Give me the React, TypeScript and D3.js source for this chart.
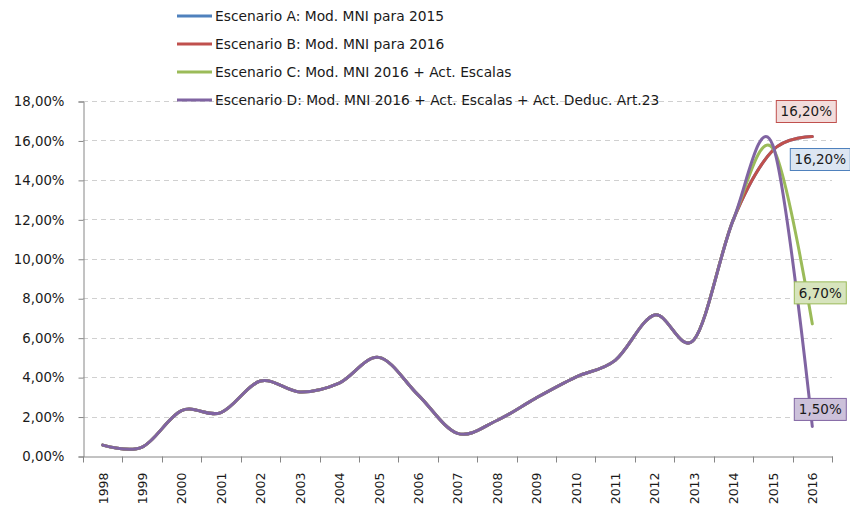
import * as d3 from 'd3';
import { useEffect, useRef } from 'react';

const width = 850;
const height = 508;
const margin = { top: 101, left: 83, bottom: 52, right: 18 };

const years = [
  '1998', '1999', '2000', '2001', '2002', '2003', '2004', '2005', '2006', '2007',
  '2008', '2009', '2010', '2011', '2012', '2013', '2014', '2015', '2016',
];

// shared history 1998-2014
const base = [0.55, 0.45, 2.3, 2.2, 3.8, 3.25, 3.7, 5.0, 3.1, 1.15, 1.8, 2.95, 4.0, 4.85, 7.15, 5.9, 12.0];

const scenarioA = [...base, 15.5, 16.2];
const scenarioB = [...base, 15.5, 16.2];
const scenarioC = [...base, 15.6, 6.7];
const scenarioD = [...base, 15.75, 1.5];

const seriesNames = [
  'Escenario A: Mod. MNI para 2015',
  'Escenario B: Mod. MNI para 2016',
  'Escenario C: Mod. MNI 2016 + Act. Escalas',
  'Escenario D: Mod. MNI 2016 + Act. Escalas + Act. Deduc. Art.23',
];
const seriesValues = [scenarioA, scenarioB, scenarioC, scenarioD];
const colors = ['#4F81BD', '#C0504D', '#9BBB59', '#8064A2'];
const labelFills = ['#DCE6F2', '#F2DCDB', '#D7E4BD', '#CCC1DA'];
const labelStrokes = ['#4F81BD', '#C0504D', '#9BBB59', '#8064A2'];
// offset of each end label box centre from its last point
const labelOffsets = [
  { dx: 8, dy: 23 },
  { dx: -6, dy: -25 },
  { dx: 8, dy: -31 },
  { dx: 8, dy: -17 },
];

const yTicks = [0, 2, 4, 6, 8, 10, 12, 14, 16, 18];

const font = 'DejaVu Sans, sans-serif';
const fmt = (v: number) => v.toFixed(2).replace('.', ',') + '%';

function App() {
  const ref = useRef<SVGSVGElement>(null);

  useEffect(() => {
    const svg = d3.select(ref.current);
    svg.selectAll('*').remove();

    const x = d3
      .scaleBand()
      .domain(years)
      .range([margin.left, width - margin.right]);
    const cx = (i: number) => (x(years[i]) || 0) + x.bandwidth() / 2;

    const y = d3
      .scaleLinear()
      .domain([0, 18])
      .range([height - margin.bottom, margin.top]);

    // gridlines
    svg
      .append('g')
      .selectAll('line')
      .data(yTicks.slice(1))
      .join('line')
      .attr('x1', margin.left)
      .attr('x2', width - margin.right)
      .attr('y1', (d) => Math.round(y(d)) + 0.5)
      .attr('y2', (d) => Math.round(y(d)) + 0.5)
      .attr('stroke', '#D0D0D0')
      .attr('stroke-dasharray', '5,4');

    // y axis
    const yAxis = svg
      .append('g')
      .attr('transform', `translate(${margin.left + 0.5},0.5)`)
      .call(
        d3
          .axisLeft(y)
          .tickValues(yTicks)
          .tickSize(5)
          .tickPadding(14)
          .tickFormat((d) => fmt(d as number))
      );
    yAxis.select('.domain').attr('stroke', '#868686');
    yAxis.selectAll('.tick line').attr('stroke', '#868686');
    yAxis
      .selectAll('.tick text')
      .attr('font-family', font)
      .attr('font-size', 13.3)
      .attr('fill', '#1a1a1a');

    // x axis
    const xAxis = svg
      .append('g')
      .attr('transform', `translate(0.5,${height - margin.bottom + 0.5})`)
      .call(d3.axisBottom(x).tickSize(0).tickPadding(0));
    xAxis.select('.domain').attr('stroke', '#868686');
    xAxis
      .append('g')
      .selectAll('line')
      .data([...years.map((yr) => x(yr) || 0), width - margin.right])
      .join('line')
      .attr('x1', (d) => Math.round(d))
      .attr('x2', (d) => Math.round(d))
      .attr('y1', 0)
      .attr('y2', 6)
      .attr('stroke', '#868686');
    xAxis
      .selectAll('.tick text')
      .attr('font-family', font)
      .attr('font-size', 12.5)
      .attr('fill', '#1a1a1a')
      .attr('text-anchor', 'end')
      .attr('dy', '0.35em')
      .attr('transform', 'translate(0,16) rotate(-90)')
      .attr('x', 0)
      .attr('y', 0);

    // lines
    const line = d3
      .line<number>()
      .x((_, i) => cx(i))
      .y((d) => y(d))
      .curve(d3.curveCardinal.tension(0));

    svg
      .append('g')
      .selectAll('path')
      .data(seriesValues)
      .join('path')
      .attr('d', (d) => line(d))
      .attr('fill', 'none')
      .attr('stroke', (_, i) => colors[i])
      .attr('stroke-width', 3)
      .attr('stroke-linecap', 'round');

    // end labels
    const last = years.length - 1;
    const labels = svg
      .append('g')
      .selectAll('g')
      .data(seriesValues)
      .join('g')
      .attr(
        'transform',
        (d, i) => `translate(${cx(last) + labelOffsets[i].dx},${y(d[last]) + labelOffsets[i].dy})`
      );
    labels
      .append('rect')
      .attr('x', (d) => (d[last] >= 10 ? -30 : -26))
      .attr('y', -11)
      .attr('width', (d) => (d[last] >= 10 ? 60 : 52))
      .attr('height', 22)
      .attr('fill', (_, i) => labelFills[i])
      .attr('stroke', (_, i) => labelStrokes[i])
      .attr('stroke-width', 1);
    labels
      .append('text')
      .attr('text-anchor', 'middle')
      .attr('dy', '0.36em')
      .attr('font-family', font)
      .attr('font-size', 13.5)
      .attr('fill', '#1a1a1a')
      .text((d) => fmt(d[last]));

    // legend
    const legend = svg
      .append('g')
      .selectAll('g')
      .data(seriesNames)
      .join('g')
      .attr('transform', (_, i) => `translate(177,${16 + i * 28})`);
    legend
      .append('line')
      .attr('x1', 0)
      .attr('x2', 35)
      .attr('stroke', (_, i) => colors[i])
      .attr('stroke-width', 3);
    legend
      .append('text')
      .attr('x', 38)
      .attr('dy', '0.35em')
      .attr('font-family', font)
      .attr('font-size', 13.8)
      .attr('fill', '#1a1a1a')
      .text((d) => d);
  }, []);

  return (
    <svg
      ref={ref}
      width={width}
      height={height}
      style={{ position: 'absolute', left: 0, top: 0, background: '#fff' }}
    />
  );
}

export default App;
